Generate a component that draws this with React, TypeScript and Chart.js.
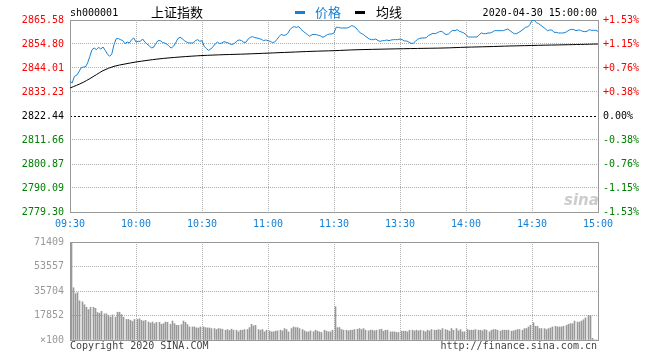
import React, { useEffect, useRef } from 'react';
import { Chart, registerables } from 'chart.js';

Chart.register(...registerables);

// ---------------- data ----------------
const timeLabels = ['09:30', '10:00', '10:30', '11:00', '11:30', '13:30', '14:00', '14:30', '15:00'];
const timeTickMinutes = [0, 30, 60, 90, 120, 150, 180, 210, 240];

const priceTicks = [2779.30, 2790.09, 2800.87, 2811.66, 2822.44, 2833.23, 2844.01, 2854.80, 2865.58];
const pctLabels = ['-1.53%', '-1.15%', '-0.76%', '-0.38%', '0.00%', '+0.38%', '+0.76%', '+1.15%', '+1.53%'];

const volTicks = [0, 17852, 35704, 53557, 71409];
const volLabels = ['\u00d7100', '17852', '35704', '53557', '71409'];

// one value per minute, 09:30 .. 11:30 / 13:00 .. 15:00 (241 points)
const priceValues = [
  2838.02, 2837.27, 2840.27, 2840.72, 2842.22, 2844.01, 2844.46, 2844.46, 2846.26, 2849.26,
  2852.25, 2853.00, 2852.25, 2853.30, 2852.55, 2853.45, 2851.95, 2850.30, 2849.26, 2850.30,
  2854.50, 2857.20, 2857.20, 2856.75, 2856.30, 2854.95, 2855.70, 2855.25, 2856.75, 2857.50,
  2855.70, 2856.00, 2856.00, 2857.05, 2855.70, 2854.80, 2854.05, 2853.00, 2853.30, 2854.95,
  2856.30, 2856.30, 2855.55, 2855.25, 2854.80, 2853.75, 2853.00, 2853.75, 2855.25, 2857.20,
  2857.79, 2857.20, 2856.30, 2855.70, 2855.25, 2855.25, 2855.25, 2856.30, 2856.75, 2856.00,
  2856.30, 2853.75, 2852.70, 2851.95, 2852.55, 2853.60, 2854.80, 2855.70, 2854.95, 2855.25,
  2855.85, 2855.55, 2855.25, 2854.65, 2854.65, 2855.25, 2856.30, 2856.60, 2856.30, 2855.55,
  2855.55, 2857.05, 2857.79, 2858.09, 2857.64, 2857.50, 2857.20, 2856.90, 2856.30, 2856.60,
  2856.30, 2856.00, 2855.40, 2855.70, 2856.75, 2858.09, 2859.14, 2858.69, 2858.84, 2859.59,
  2861.24, 2862.29, 2862.59, 2862.29, 2862.59, 2861.39, 2860.49, 2859.74, 2858.99, 2858.24,
  2858.99, 2859.14, 2858.99, 2858.69, 2858.39, 2857.79, 2858.39, 2858.99, 2859.29, 2859.29,
  2859.74, 2862.29, 2862.29, 2861.99, 2861.99, 2861.99, 2861.99, 2862.44, 2863.04, 2862.74,
  2861.99, 2860.79, 2859.74, 2859.29, 2858.54, 2857.79, 2857.05, 2856.75, 2856.75, 2857.05,
  2856.30, 2856.00, 2856.30, 2856.30, 2856.60, 2856.30, 2856.60, 2856.75, 2856.75, 2856.75,
  2857.05, 2856.75, 2856.15, 2856.15, 2855.70, 2855.10, 2855.10, 2856.00, 2856.90, 2857.35,
  2857.50, 2857.50, 2857.64, 2858.69, 2859.14, 2859.59, 2859.44, 2859.89, 2860.34, 2860.49,
  2859.59, 2858.99, 2859.29, 2860.19, 2860.94, 2860.79, 2861.24, 2860.49, 2860.19, 2859.74,
  2858.99, 2857.94, 2857.94, 2857.94, 2857.94, 2857.94, 2858.99, 2859.74, 2859.44, 2859.44,
  2859.74, 2859.74, 2860.19, 2860.79, 2860.79, 2860.79, 2860.79, 2860.79, 2861.24, 2861.54,
  2860.79, 2860.04, 2859.44, 2859.44, 2860.04, 2860.64, 2861.39, 2862.29, 2862.44, 2863.49,
  2865.43, 2865.43, 2864.39, 2863.94, 2863.19, 2862.44, 2861.69, 2860.79, 2861.09, 2861.09,
  2860.04, 2860.04, 2859.74, 2859.74, 2859.74, 2859.89, 2860.49, 2861.09, 2861.39, 2861.24,
  2860.79, 2861.09, 2860.94, 2860.49, 2860.34, 2860.49, 2861.24, 2860.94, 2860.94, 2860.94,
  2860.49,
];

// average line, read at selected minutes
const avgMinutes = [0, 3, 6, 9, 12, 15, 20, 25, 30, 40, 50, 60, 70, 80, 90, 100, 110, 120, 130, 145, 158, 170, 180, 190, 200, 213, 225, 232, 240];
const avgValues = [
  2835.03, 2836.22, 2837.57, 2839.22, 2841.02, 2842.82, 2844.76, 2845.81, 2846.71, 2848.06,
  2848.96, 2849.60, 2850.00, 2850.30, 2850.70, 2851.10, 2851.50, 2851.80, 2852.20, 2852.55,
  2852.80, 2853.00, 2853.35, 2853.60, 2853.90, 2854.20, 2854.45, 2854.60, 2854.80,
];

// volume (x100), one per minute
const volumeValues = [
  71409, 38085, 33800, 34514, 28563, 27849, 25703, 23803, 22136, 23803,
  23803, 23089, 19994, 19518, 20946, 19042, 19042, 17852, 16662, 18328,
  16662, 20232, 20232, 18566, 16662, 14995, 14995, 14281, 13567, 14995,
  14995, 15471, 14281, 13805, 14281, 13091, 12377, 13091, 11901, 12853,
  12853, 11425, 11901, 13091, 12853, 11425, 13805, 11901, 10711, 10711,
  11187, 13805, 12853, 11187, 9521, 9521, 9521, 8807, 8807, 9521,
  9521, 9045, 8807, 8807, 8331, 8331, 7617, 8331, 8093, 7855,
  7141, 7617, 6903, 7855, 7141, 7141, 5952, 7141, 7141, 7617,
  7617, 9045, 11425, 10235, 10711, 7617, 7141, 7617, 5952, 7141,
  6666, 5952, 5952, 6428, 6666, 7141, 6666, 8331, 7617, 5952,
  8331, 9521, 9045, 9045, 8331, 7617, 6666, 5952, 5952, 6666,
  5952, 7141, 6428, 5952, 5476, 7141, 6428, 5952, 5952, 7141,
  24279, 9045, 9045, 7617, 7141, 7141, 6666, 7141, 7141, 7617,
  7855, 8331, 7617, 8331, 7141, 6666, 7141, 7141, 6666, 7141,
  7617, 7855, 6428, 7141, 7141, 5952, 5952, 5952, 5476, 5476,
  6428, 6428, 6428, 5952, 7141, 7141, 6666, 7141, 6666, 7141,
  6666, 5952, 7141, 6666, 7617, 7141, 7141, 7617, 7141, 8331,
  7617, 7141, 6428, 8331, 7141, 8331, 6666, 7617, 5952, 5952,
  7617, 7141, 7141, 7141, 7617, 7141, 7141, 6666, 7617, 7141,
  5952, 7141, 7617, 7617, 7141, 6428, 7141, 7141, 7141, 7141,
  6428, 6666, 7141, 7617, 7617, 7141, 8331, 8331, 9521, 10711,
  12615, 9997, 9997, 8331, 8331, 8331, 7617, 8331, 8807, 9521,
  9997, 9521, 9521, 9521, 9997, 10711, 11425, 11901, 11901, 13805,
  13091, 13091, 13805, 14757, 16186, 17852, 17852, 1190, 0, 0,
  0,
];

// ---------------- style ----------------
const MONO = '"DejaVu Sans Mono", monospace';
const CJK = '"Noto Sans CJK SC", sans-serif';
const BLUE = '#1580d4';
const RED = '#ff0000';
const GREEN = '#008000';
const GRID = '#b0b0b0';
const FRAME = '#999999';
const VOLC = '#999999';

const framePlugin = {
  id: 'frame',
  beforeDatasetsDraw(chart: any) {
    const { ctx, chartArea: a } = chart;
    const l = Math.round(a.left) + 0.5;
    const r = Math.round(a.right) + 0.5;
    const t = Math.round(a.top) + 0.5;
    const b = Math.round(a.bottom) + 0.5;
    ctx.save();
    ctx.setLineDash([]);
    ctx.strokeStyle = FRAME;
    ctx.lineWidth = 1;
    ctx.strokeRect(l, t, r - l, b - t);
    ctx.restore();
  },
};

// snap the 1px volume bars onto whole pixel columns so they stay crisp
const snapBarsPlugin = {
  id: 'snapBars',
  afterDatasetsUpdate(chart: any) {
    chart.data.datasets.forEach((_d: any, di: number) => {
      const meta = chart.getDatasetMeta(di);
      meta.data.forEach((el: any) => {
        el.x = Math.floor(el.x + 1) + 0.5;
        el.width = 1;
      });
    });
  },
};

const tickColor = (c: any) => (c.index < 4 ? GREEN : c.index === 4 ? '#000000' : RED);
const isCenter = (c: any) => c.tick && Math.abs(c.tick.value - priceTicks[4]) < 0.001;

export default function App() {
  const priceRef = useRef<HTMLCanvasElement>(null);
  const volRef = useRef<HTMLCanvasElement>(null);

  useEffect(() => {
    document.body.style.margin = '0';
    const font = { family: MONO, size: 10 };

    const c1 = new Chart(priceRef.current as HTMLCanvasElement, {
      type: 'line',
      data: {
        datasets: [
          {
            label: '价格',
            data: priceValues.map((v, i) => ({ x: i, y: v })),
            borderColor: BLUE,
            borderWidth: 1,
            pointRadius: 0,
            tension: 0,
          },
          {
            label: '均线',
            data: avgMinutes.map((m, i) => ({ x: m, y: avgValues[i] })),
            borderColor: '#000000',
            borderWidth: 1,
            pointRadius: 0,
            tension: 0.3,
          },
        ],
      },
      options: {
        animation: false,
        responsive: false,
        events: [],
        layout: { padding: { top: 20, left: 0, right: 0, bottom: 0 } },
        plugins: { legend: { display: false }, tooltip: { enabled: false } },
        scales: {
          x: {
            type: 'linear',
            min: 0,
            max: 240,
            afterBuildTicks: (s: any) => { s.ticks = timeTickMinutes.map((v) => ({ value: v })); },
            afterFit: (s: any) => { s.height = 23; },
            ticks: {
              autoSkip: false,
              maxRotation: 0,
              color: BLUE,
              font,
              padding: 6,
              callback: (_v: any, i: number) => timeLabels[i],
            },
            grid: { color: GRID, drawTicks: false, lineWidth: 1 },
            border: { display: false, dash: [1, 1] },
          },
          y: {
            position: 'left',
            min: priceTicks[0],
            max: priceTicks[8],
            afterBuildTicks: (s: any) => { s.ticks = priceTicks.map((v) => ({ value: v })); },
            afterFit: (s: any) => { s.width = 70; },
            ticks: {
              autoSkip: false,
              color: tickColor,
              font,
              padding: 6,
              callback: (_v: any, i: number) => priceTicks[i].toFixed(2),
            },
            grid: {
              drawTicks: false,
              color: (c: any) => (isCenter(c) ? '#000000' : GRID),
            },
            border: { display: false, dash: (c: any) => (isCenter(c) ? [2, 2] : [1, 1]) },
          },
          y2: {
            position: 'right',
            min: priceTicks[0],
            max: priceTicks[8],
            afterBuildTicks: (s: any) => { s.ticks = priceTicks.map((v) => ({ value: v })); },
            afterFit: (s: any) => { s.width = 62; },
            ticks: {
              autoSkip: false,
              color: tickColor,
              font,
              padding: 5,
              callback: (_v: any, i: number) => pctLabels[i],
            },
            grid: { display: false, drawTicks: false },
            border: { display: false },
          },
        },
      },
      plugins: [framePlugin],
    } as any);

    const c2 = new Chart(volRef.current as HTMLCanvasElement, {
      type: 'bar',
      data: {
        datasets: [
          {
            label: 'volume',
            data: volumeValues.map((v, i) => ({ x: i, y: v })),
            backgroundColor: VOLC,
            borderWidth: 0,
            barThickness: 1,
          },
        ],
      },
      options: {
        animation: false,
        responsive: false,
        events: [],
        layout: { padding: { top: 10, left: 0, right: 62, bottom: 0 } },
        plugins: { legend: { display: false }, tooltip: { enabled: false } },
        scales: {
          x: {
            type: 'linear',
            min: 0,
            max: 240,
            offset: false,
            afterBuildTicks: (s: any) => { s.ticks = timeTickMinutes.map((v) => ({ value: v })); },
            afterFit: (s: any) => { s.height = 20; },
            ticks: { display: false },
            grid: { color: GRID, drawTicks: false, offset: false },
            border: { display: false, dash: [1, 1] },
          },
          y: {
            position: 'left',
            min: 0,
            max: volTicks[4],
            afterBuildTicks: (s: any) => { s.ticks = volTicks.map((v) => ({ value: v })); },
            afterFit: (s: any) => { s.width = 70; },
            ticks: {
              autoSkip: false,
              color: '#999999',
              font,
              padding: 6,
              callback: (_v: any, i: number) => volLabels[i],
            },
            grid: { color: GRID, drawTicks: false },
            border: { display: false, dash: [1, 1] },
          },
        },
      },
      plugins: [framePlugin, snapBarsPlugin],
    } as any);

    return () => {
      c1.destroy();
      c2.destroy();
    };
  }, []);

  const abs = (extra: any) => ({ position: 'absolute' as const, whiteSpace: 'nowrap' as const, ...extra });

  return (
    <div style={{ position: 'relative', width: 660, height: 360, background: '#ffffff', overflow: 'hidden' }}>
      <canvas ref={priceRef} width={660} height={235} style={{ position: 'absolute', left: 0, top: 0, display: 'block' }} />
      <canvas ref={volRef} width={660} height={130} style={{ position: 'absolute', left: 0, top: 230, display: 'block' }} />

      <div style={abs({ left: 70, top: 6, font: `10px ${MONO}`, lineHeight: '14px', color: '#000' })}>sh000001</div>
      <div style={abs({ left: 151, top: 4, font: `13px ${CJK}`, lineHeight: '16px', color: '#000' })}>上证指数</div>

      <div style={abs({ left: 295, top: 11, width: 10, height: 3, background: BLUE })} />
      <div style={abs({ left: 315, top: 4, font: `13px ${CJK}`, lineHeight: '16px', color: BLUE })}>价格</div>
      <div style={abs({ left: 355, top: 11, width: 10, height: 3, background: '#000' })} />
      <div style={abs({ left: 376, top: 4, font: `13px ${CJK}`, lineHeight: '16px', color: '#000' })}>均线</div>

      <div style={abs({ right: 63, top: 6, font: `10px ${MONO}`, lineHeight: '14px', color: '#000' })}>2020-04-30 15:00:00</div>

      <div style={abs({ left: 564, top: 191, font: `italic bold 15px "DejaVu Sans", sans-serif`, lineHeight: '18px', color: '#cccccc' })}>sina</div>

      <div style={abs({ left: 70, top: 339, font: `10px ${MONO}`, lineHeight: '14px', color: '#444' })}>Copyright 2020 SINA.COM</div>
      <div style={abs({ right: 63, top: 339, font: `10px ${MONO}`, lineHeight: '14px', color: '#444' })}>http://finance.sina.com.cn</div>
    </div>
  );
}
